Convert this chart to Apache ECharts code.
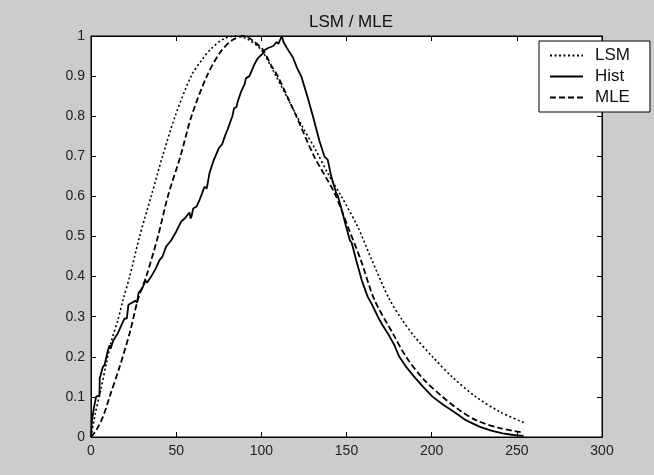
<!DOCTYPE html>
<html>
<head>
<meta charset="utf-8">
<script src="https://cdn.jsdelivr.net/npm/echarts@6/dist/echarts.min.js"></script>
<style>html,body{margin:0;padding:0;background:#cccccc;}#c{width:654px;height:475px;}</style>
</head>
<body>
<div id="c"></div>
<script>
const titleText = 'LSM / MLE';
const seriesNames = ['LSM', 'Hist', 'MLE'];
const xTickLabels = ['0', '50', '100', '150', '200', '250', '300'];
const yTickLabels = ['0', '0.1', '0.2', '0.3', '0.4', '0.5', '0.6', '0.7', '0.8', '0.9', '1'];

const lsmX = [0, 2.5, 5.7, 9, 12, 15.8, 18.8, 22.7, 28.5, 35.3, 42, 49.4, 58.8, 65, 70.5, 78, 85, 92, 100, 108, 116, 124, 132, 140, 147, 156.6, 164.5, 175, 183, 190, 200.5, 212, 226, 240, 254];
const lsmY = [0, 0.058, 0.117, 0.184, 0.24, 0.292, 0.342, 0.40, 0.50, 0.60, 0.70, 0.80, 0.90, 0.94, 0.968, 0.993, 1.0, 0.992, 0.965, 0.905, 0.84, 0.775, 0.715, 0.65, 0.60, 0.524, 0.445, 0.345, 0.29, 0.25, 0.2, 0.15, 0.1, 0.063, 0.036];

const mleX = [0, 3.1, 7, 10.9, 16.8, 22.7, 27.5, 32.4, 39.3, 45.1, 52.5, 59, 68, 76, 83, 90, 96, 101, 106, 109.6, 120.5, 131, 143, 150.8, 158.5, 166.4, 177.1, 185, 195, 206.4, 216, 226, 240, 254];
const mleY = [0, 0.017, 0.05, 0.10, 0.175, 0.259, 0.342, 0.40, 0.50, 0.60, 0.70, 0.80, 0.90, 0.96, 0.99, 1.0, 0.985, 0.965, 0.925, 0.9, 0.8, 0.7, 0.608, 0.524, 0.44, 0.342, 0.259, 0.2, 0.145, 0.1, 0.068, 0.042, 0.022, 0.011];

const histX = [0, 0.6, 1.8, 3, 5, 5.1, 7, 8, 10, 10.9, 11.5, 13, 15.8, 18, 19.7, 21, 22, 24, 26, 27, 28, 30, 32, 33, 35.3, 38, 39, 40.2, 42, 44.1, 45, 47, 50, 52.9, 55, 56, 57.8, 58.5, 59, 60, 62, 63.7, 65, 66.6, 68, 69.5, 70, 72, 75, 77, 78.5, 79, 80, 83, 84, 85.4, 86, 88, 90.2, 91, 93, 96, 98, 101, 102, 104, 107, 109, 110, 111, 112, 113, 115, 116, 118.5, 121, 123.4, 127, 130.3, 134, 137, 139, 141, 144, 145, 147, 149.8, 152, 153, 155.7, 159, 162.4, 165, 168.4, 171, 174.2, 178, 181, 185, 189.8, 195, 200.6, 207, 214.3, 220, 228, 235, 241.6, 248, 254];
const histY = [0, 0.042, 0.075, 0.1, 0.104, 0.146, 0.175, 0.18, 0.217, 0.229, 0.22, 0.24, 0.259, 0.28, 0.296, 0.295, 0.33, 0.335, 0.34, 0.335, 0.36, 0.37, 0.39, 0.385, 0.40, 0.42, 0.418, 0.441, 0.45, 0.475, 0.472, 0.49, 0.512, 0.537, 0.545, 0.543, 0.56, 0.545, 0.55, 0.57, 0.575, 0.591, 0.605, 0.624, 0.62, 0.657, 0.655, 0.69, 0.72, 0.73, 0.749, 0.745, 0.765, 0.8, 0.82, 0.823, 0.835, 0.86, 0.88, 0.895, 0.9, 0.93, 0.945, 0.957, 0.965, 0.97, 0.975, 0.985, 0.98, 0.99, 1.0, 0.985, 0.97, 0.972, 0.947, 0.92, 0.9, 0.85, 0.8, 0.74, 0.7, 0.691, 0.65, 0.608, 0.6, 0.57, 0.524, 0.49, 0.485, 0.441, 0.39, 0.35, 0.33, 0.3, 0.28, 0.259, 0.23, 0.2, 0.175, 0.15, 0.125, 0.1, 0.08, 0.059, 0.042, 0.026, 0.016, 0.009, 0.005, 0.003];

function pairs(xs, ys) { return xs.map((x, i) => [x, ys[i]]); }

const FONT = 'Liberation Sans, Arial, sans-serif';
const chart = echarts.init(document.getElementById('c'), null, {renderer: 'canvas'});

const xLabelFmt = v => { const i = Math.round(v / 50); return xTickLabels[i] !== undefined ? xTickLabels[i] : ''; };
const yLabelFmt = v => { const i = Math.round(v * 10); return yTickLabels[i] !== undefined ? yTickLabels[i] : ''; };

const axisCommon = {
  type: 'value',
  splitLine: {show: false},
  axisLine: {show: true, onZero: false, lineStyle: {color: '#000', width: 1}},
  axisTick: {show: true, inside: true, length: 5, lineStyle: {color: '#000'}},
};

chart.setOption({
  backgroundColor: '#cccccc',
  animation: false,
  title: {
    text: titleText, left: 346, top: 9, textAlign: 'center',
    textStyle: {fontFamily: FONT, fontSize: 17, fontWeight: 'normal', color: '#111'}
  },
  legend: {
    data: seriesNames,
    orient: 'vertical',
    left: 539, top: 41,
    padding: [6, 20, 6, 10],
    itemWidth: 33, itemHeight: 14, itemGap: 4,
    backgroundColor: '#fff', borderColor: '#000', borderWidth: 1,
    itemStyle: {opacity: 0},
    textStyle: {fontFamily: FONT, fontSize: 17, color: '#111', padding: [0, 0, 0, 7]}
  },
  grid: {left: 91, top: 36, width: 511, height: 401, show: true, backgroundColor: '#fff', borderColor: '#000', borderWidth: 1},
  xAxis: [
    Object.assign({}, axisCommon, {position: 'bottom', min: 0, max: 300, interval: 50,
      axisLabel: {formatter: xLabelFmt, fontFamily: FONT, fontSize: 14, color: '#222', margin: 7}}),
    Object.assign({}, axisCommon, {position: 'top', min: 0, max: 300, interval: 50, axisLabel: {show: false}})
  ],
  yAxis: [
    Object.assign({}, axisCommon, {position: 'left', min: 0, max: 1, interval: 0.1,
      axisLabel: {formatter: yLabelFmt, fontFamily: FONT, fontSize: 14, color: '#222', margin: 6}}),
    Object.assign({}, axisCommon, {position: 'right', min: 0, max: 1, interval: 0.1, axisLabel: {show: false}})
  ],
  series: [
    {name: 'LSM', type: 'line', data: pairs(lsmX, lsmY), symbol: 'none', smooth: 0.3,
      lineStyle: {color: '#000', width: 1.6, type: [2, 2.5]}, itemStyle: {color: '#000'}},
    {name: 'Hist', type: 'line', data: pairs(histX, histY), symbol: 'none',
      lineStyle: {color: '#000', width: 1.8, type: 'solid'}, itemStyle: {color: '#000'}},
    {name: 'MLE', type: 'line', data: pairs(mleX, mleY), symbol: 'none', smooth: 0.3,
      lineStyle: {color: '#000', width: 1.8, type: [6, 3]}, itemStyle: {color: '#000'}}
  ]
});
</script>
</body>
</html>
